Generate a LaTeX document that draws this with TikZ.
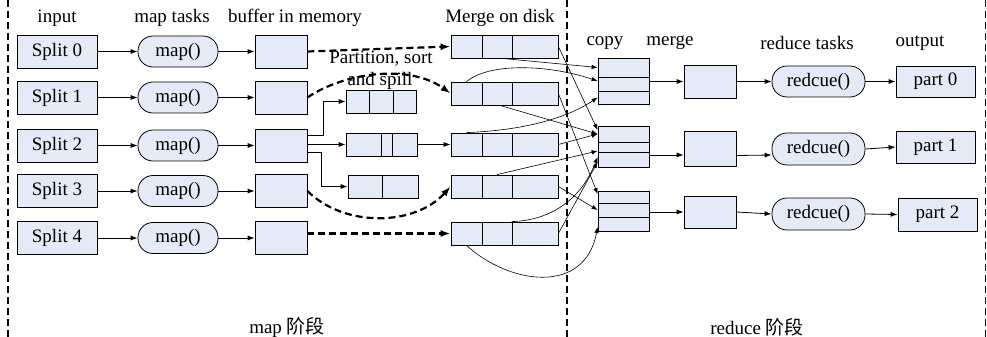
\documentclass[tikz,border=0pt]{standalone}
\usepackage{fontspec}
\setmainfont{Liberation Serif}
\newfontfamily\cjk{Noto Sans CJK SC}
\usetikzlibrary{arrows.meta}
\definecolor{boxfill}{RGB}{228,234,246}
\begin{document}
\begin{tikzpicture}[x=1pt,y=-1pt,font=\fontsize{19}{22}\selectfont,
  box/.style={draw,fill=boxfill,inner sep=0pt,line width=0.8pt},
  oval/.style={box,rounded corners=15pt},
  arr/.style={line width=0.8pt,-{Latex[length=7pt,width=5pt]}},
  thin/.style={line width=0.6pt,-{Latex[length=6pt,width=4.5pt]}},
  bigdash/.style={line width=2.2pt,dash pattern=on 7pt off 4pt,-{Latex[length=10pt,width=7pt]}},
  divider/.style={line width=1.4pt,dash pattern=on 7pt off 4pt},
  lbl/.style={inner sep=0pt}]
\useasboundingbox (0,0) rectangle (987,337);
\fill[white] (0,0) rectangle (987,337);

% dividers
\draw[divider] (8,0) -- (8,337);
\draw[divider] (567,0) -- (567,337);
\draw[divider] (985.5,0) -- (985.5,337);

% headings
\node[lbl] (hin) at (57,18) {input};
\node[lbl] (hmap) at (172,18) {map tasks};
\node[lbl] (hbuf) at (295,18) {buffer in memory};
\node[lbl] (hdisk) at (500,18) {Merge on disk};
\node[lbl] (hcopy) at (605,43) {copy};
\node[lbl] (hmerge) at (670,43) {merge};
\node[lbl] (hred) at (807,43) {reduce tasks};
\node[lbl] (hout) at (920,43) {output};
\node[lbl] (lmap) at (287,327) {map {\cjk 阶段}};
\node[lbl] (lred) at (757,327) {reduce {\cjk 阶段}};

% map side rows
\foreach \i/\y in {0/51.5,1/97.5,2/145.5,3/191,4/238}{
  \node[box,minimum width=80pt,minimum height=33pt] (s\i) at (57,\y) {Split \i};
  \node[oval,minimum width=80pt,minimum height=31pt] (t\i) at (178,\y) {map()};
  \node[box,minimum width=52pt,minimum height=33pt] (b\i) at (281,\y) {};
  \draw[arr] (s\i) -- (t\i);
  \draw[arr] (t\i) -- (b\i);
}

% partition boxes
\node[box,minimum width=23pt,minimum height=23pt] (pa1) at (357.5,101.5) {};
\node[box,minimum width=24pt,minimum height=23pt] (pb1) at (381,101.5) {};
\node[box,minimum width=23pt,minimum height=23pt] (pc1) at (404.5,101.5) {};
\node[box,minimum width=35pt,minimum height=23pt] (pa2) at (363.5,144.5) {};
\node[box,minimum width=11pt,minimum height=23pt] (pb2) at (386.5,144.5) {};
\node[box,minimum width=25pt,minimum height=23pt] (pc2) at (404.5,144.5) {};
\node[box,minimum width=34pt,minimum height=23pt] (pa3) at (365,186.5) {};
\node[box,minimum width=36pt,minimum height=23pt] (pb3) at (400,186.5) {};

% disk boxes
\foreach \i/\y in {0/46.5,1/93.5,2/144.5,3/186.5,4/233.5}{
  \node[box,minimum width=31pt,minimum height=23pt] (da\i) at (466.5,\y) {};
  \node[box,minimum width=30pt,minimum height=23pt] (db\i) at (497,\y) {};
  \node[box,minimum width=46pt,minimum height=23pt] (dc\i) at (535,\y) {};
}

% labels of spill
\node[lbl] (lps) at (381,59) {Partition, sort};
\node[lbl] (las) at (380,81) {and spill};

% buffer -> partitions
\draw[arr] ([yshift=10pt]b2.east) -- ++(16,0) |- (pa1.west);
\draw[arr] (b2.east |- pa2.west) -- (pa2.west);
\draw[arr] ([yshift=-7pt]b2.east) -- ++(14,0) |- (pa3.west);
\draw[arr] (pc2.east) -- (da2.west);

% dashed spills
\draw[bigdash] (b0.east) -- (da0.west);
\draw[bigdash] (b1.east) .. controls (345,72) and (410,64) .. (da1.west);
\draw[bigdash] (b3.east) .. controls (345,228) and (415,226) .. (da3.west);
\draw[bigdash] (b4.east |- da4.west) -- (da4.west);

% copy groups
\node[box,minimum width=51pt,minimum height=19pt] (ga0) at (623.5,67.5) {};
\node[box,minimum width=51pt,minimum height=14pt] (gb0) at (623.5,84) {};
\node[box,minimum width=51pt,minimum height=13pt] (gc0) at (623.5,97.5) {};
\node[box,minimum width=51pt,minimum height=16pt] (ga1) at (623.5,134) {};
\node[box,minimum width=51pt,minimum height=10pt] (gb1) at (623.5,147) {};
\node[box,minimum width=51pt,minimum height=15pt] (gc1) at (623.5,159.5) {};
\node[box,minimum width=51pt,minimum height=12pt] (ga2) at (623.5,197) {};
\node[box,minimum width=51pt,minimum height=14pt] (gb2) at (623.5,210) {};
\node[box,minimum width=51pt,minimum height=14pt] (gc2) at (623.5,224) {};

% shuffle connectors
\draw[thin] ([xshift=5pt]db0.south) -- (ga0.west);
\draw[thin] (dc0.east) -- ([yshift=4pt]ga1.west);
\draw[thin] (da1.north) .. controls (490,62) and (550,65) .. ([yshift=3pt]gb0.west);
\draw[thin] (dc1.east) -- ([yshift=3pt]ga2.west);
\draw[thin] ([xshift=3pt]db1.south) -- (ga1.west);
\draw[thin] (da2.north) .. controls (530,130) and (570,116) .. (gc0.west);
\draw[thin] (dc2.east) -- (ga1.west);
\draw[thin] (db3.north) -- ([yshift=-4pt]gb1.west);
\draw[thin] (dc3.east) -- (gb2.west);
\draw[thin] (dc4.north west) .. controls (560,220) and (585,190) .. ([yshift=2.5pt]gc1.west);
\draw[thin] (dc4.east) -- ([yshift=-2.5pt]gc1.west);
\draw[thin] (da4.south) .. controls (510,285) and (585,295) .. ([yshift=-3pt]gc2.west);

% reduce side rows
\node[box,minimum width=52pt,minimum height=33pt] (m0) at (710,81.5) {};
\node[box,minimum width=52pt,minimum height=35pt] (m1) at (710,148.5) {};
\node[box,minimum width=52pt,minimum height=32pt] (m2) at (710,212) {};
\node[oval,minimum width=93pt,minimum height=31pt] (r0) at (818.5,81.5) {redcue()};
\node[oval,minimum width=93pt,minimum height=32pt] (r1) at (818.5,149) {redcue()};
\node[oval,minimum width=93pt,minimum height=32pt] (r2) at (818.5,214) {redcue()};
\node[box,minimum width=79pt,minimum height=31pt] (o0) at (935.5,81.5) {part 0};
\node[box,minimum width=79pt,minimum height=32pt] (o1) at (935.5,147) {part 1};
\node[box,minimum width=79pt,minimum height=33pt] (o2) at (937.5,214.5) {part 2};

\draw[arr] (m0.west -| gb0.east) -- (m0.west);
\draw[arr] ([yshift=-6.5pt]m1.west -| gb1.east) -- ([yshift=-6.5pt]m1.west);
\draw[arr] (m2.west -| gb2.east) -- (m2.west);
\draw[arr] (m0.east) -- (r0.west);
\draw[arr] ([yshift=-7pt]m1.east) -- ([yshift=-6pt]r1.west);
\draw[arr] (m2.east) -- (r2.west);
\draw[arr] (r0.east) -- (o0.west);
\draw[arr] (r1.east) -- (o1.west);
\draw[arr] (r2.east) -- (o2.west);
\end{tikzpicture}
\end{document}
